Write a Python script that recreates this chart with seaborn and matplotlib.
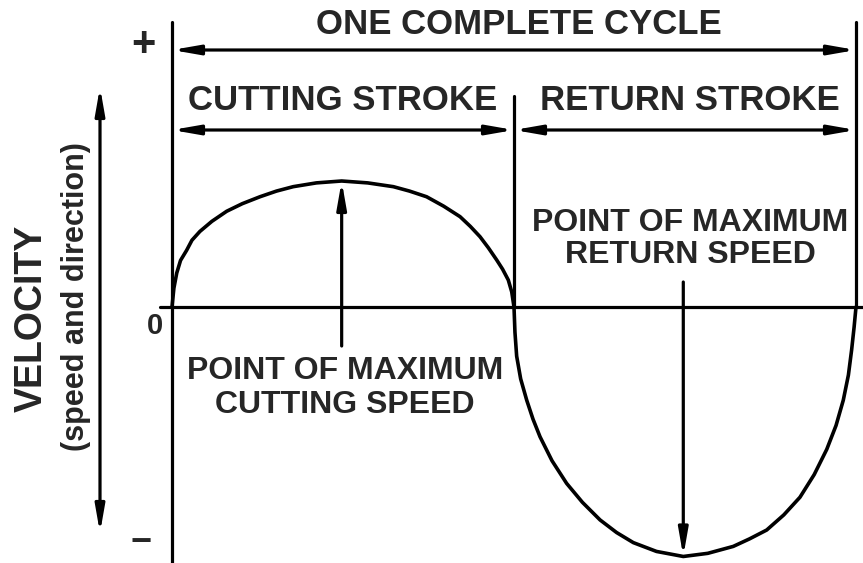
import numpy as np
import pandas as pd
import seaborn as sns
import matplotlib.pyplot as plt

# crank angle (deg) vs velocity (peak cutting speed = 1)
cut_angle = [0, 1, 2.5, 4.5, 7.7, 10.5, 14.7, 21, 28.8, 37, 46.3, 55, 63.8, 76, 89.3,
             103, 116.5, 125, 134, 143, 151.6, 157, 162.1, 166.5, 170.9, 174, 177, 178.8, 180]
cut_vel = [0, 0.15, 0.27, 0.37, 0.45, 0.53, 0.60, 0.68, 0.76, 0.82, 0.875, 0.92, 0.955, 0.985, 1.0,
           0.985, 0.955, 0.92, 0.875, 0.80, 0.717, 0.64, 0.558, 0.47, 0.373, 0.30, 0.214, 0.12, 0]
ret_angle = [180, 180.5, 181.4, 183.5, 186.7, 190, 193.7, 200, 207.7, 216, 225.3, 234, 242.8, 255, 269.1,
             282, 295.4, 304, 313, 322, 330.5, 338, 344.6, 349.5, 353.3, 356, 357.7, 359, 360]
ret_vel = [0, -0.2, -0.39, -0.57, -0.74, -0.89, -1.03, -1.22, -1.40, -1.55, -1.69, -1.79, -1.87, -1.94, -1.98,
           -1.955, -1.90, -1.84, -1.77, -1.65, -1.51, -1.33, -1.13, -0.94, -0.74, -0.54, -0.34, -0.16, 0]

cycle_end = 360
stroke_split = 180

sns.set_theme(style="white")
plt.rcParams['font.family'] = ['Liberation Sans', 'DejaVu Sans']

df = pd.DataFrame({
    'angle': cut_angle + ret_angle,
    'velocity': cut_vel + ret_vel,
    'stroke': ['cutting'] * len(cut_angle) + ['return'] * len(ret_angle),
})

fig = plt.figure(figsize=(8.63, 5.63), dpi=100)
ax = fig.add_axes([0, 0, 1, 1])

# pixel -> data helpers (x: 1.9 px per degree from px 172, y: 126 px per unit from px 307)
def X(p):
    return (p - 172) / 1.9

def Y(p):
    return (307 - p) / 126

ax.set_xlim(X(0), X(863))
ax.set_ylim(Y(563), Y(0))
ax.axis('off')

sns.lineplot(data=df, x='angle', y='velocity', units='stroke', estimator=None,
             color='black', lw=2.6, ax=ax, legend=False)

lw = 2.3
# axes and extension lines
ax.plot([0, 0], [Y(22), Y(563)], color='black', lw=lw)
ax.plot([X(160), X(863)], [0, 0], color='black', lw=lw)
ax.plot([cycle_end, cycle_end], [Y(22), 0], color='black', lw=lw)
ax.plot([stroke_split, stroke_split], [Y(96), 0], color='black', lw=lw)

arrow = dict(arrowstyle='<|-|>,head_length=0.8,head_width=0.14', mutation_scale=20,
             color='black', lw=lw, shrinkA=0, shrinkB=0)
single = dict(arrowstyle='-|>,head_length=0.8,head_width=0.14', mutation_scale=20,
              color='black', lw=lw, shrinkA=0, shrinkB=0)

# dimension lines
ax.annotate('', xy=(0, Y(50)), xytext=(cycle_end, Y(50)), arrowprops=arrow)
ax.annotate('', xy=(0, Y(130)), xytext=(stroke_split, Y(130)), arrowprops=arrow)
ax.annotate('', xy=(stroke_split, Y(130)), xytext=(cycle_end, Y(130)), arrowprops=arrow)

# velocity axis arrow on the left
ax.annotate('', xy=(X(100), Y(87)), xytext=(X(100), Y(533)), arrowprops=arrow)

# pointers to maximum speeds
i_max = int(np.argmax(cut_vel))
i_min = int(np.argmin(ret_vel))
ax.annotate('', xy=(cut_angle[i_max], cut_vel[i_max]), xytext=(cut_angle[i_max], Y(346)),
            arrowprops=single)
ax.annotate('', xy=(ret_angle[i_min], ret_vel[i_min]), xytext=(ret_angle[i_min], Y(282)),
            arrowprops=single)

fw = 'bold'
ax.text(X(519), Y(24), 'ONE COMPLETE CYCLE', ha='center', va='center', fontsize=25, fontweight=fw)
ax.text(X(343), Y(100), 'CUTTING STROKE', ha='center', va='center', fontsize=25, fontweight=fw)
ax.text(X(690), Y(100), 'RETURN STROKE', ha='center', va='center', fontsize=25, fontweight=fw)
ax.text(X(345), Y(388), 'POINT OF MAXIMUM\nCUTTING SPEED', ha='center', va='center',
        fontsize=23, fontweight=fw, linespacing=1.15)
ax.text(X(690), Y(239), 'POINT OF MAXIMUM\nRETURN SPEED', ha='center', va='center',
        fontsize=23, fontweight=fw, linespacing=1.05)
ax.text(X(32), Y(318), 'VELOCITY', ha='center', va='center', rotation=90, fontsize=27, fontweight=fw)
ax.text(X(76), Y(297), '(speed and direction)', ha='center', va='center', rotation=90,
        fontsize=22, fontweight=fw)
ax.text(X(143), Y(45), '+', ha='center', va='center', fontsize=30, fontweight=fw)
ax.text(X(155), Y(326), '0', ha='center', va='center', fontsize=21, fontweight=fw)
ax.text(X(141), Y(542), '\u2212', ha='center', va='center', fontsize=26, fontweight=fw)

fig.savefig('out.png', dpi=100)
